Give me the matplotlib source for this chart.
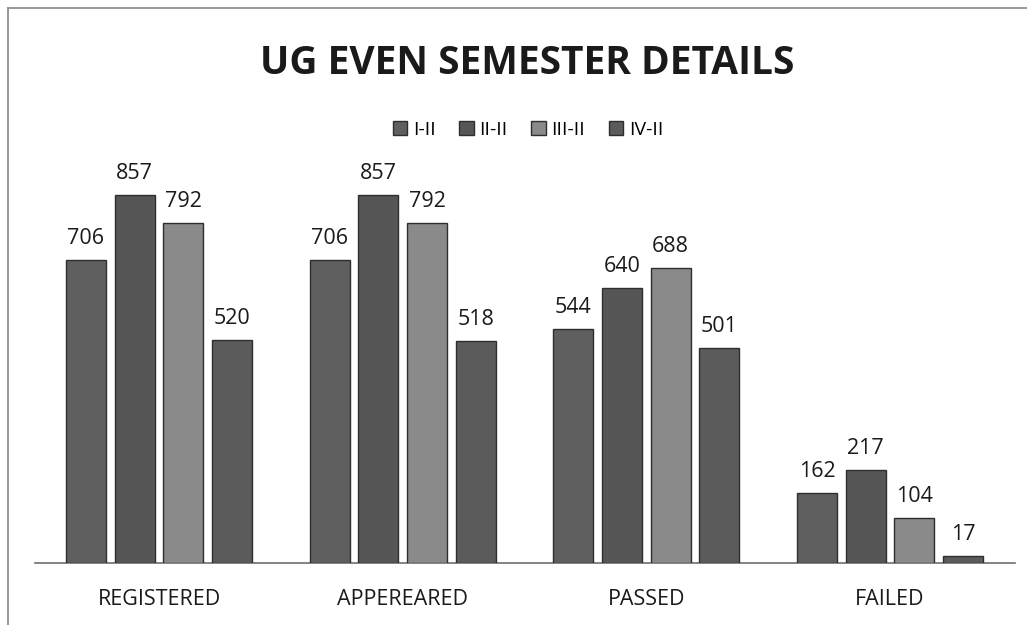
import matplotlib
matplotlib.use("Agg")
import matplotlib.pyplot as plt
from matplotlib.lines import Line2D
from matplotlib.patches import Patch
import numpy as np

categories = ["REGISTERED", "APPEREARED", "PASSED", "FAILED"]
series_names = ["I-II", "II-II", "III-II", "IV-II"]
s_I = [706, 706, 544, 162]
s_II = [857, 857, 640, 217]
s_III = [792, 792, 688, 104]
s_IV = [520, 518, 501, 17]
series = [s_I, s_II, s_III, s_IV]
colors = ["#5f5f5f", "#565656", "#8a8a8a", "#5b5b5b"]

plt.rcParams['font.family'] = ['Open Sans', 'DejaVu Sans']

W, H = 1027, 625
fig = plt.figure(figsize=(W / 100, H / 100), dpi=100)
ax = fig.add_axes([35 / W, 1 - 563 / H, (1015 - 35) / W, (563 - 150) / H])

x = np.arange(len(categories))
step = 0.2
width = 0.164
for i, (vals, c) in enumerate(zip(series, colors)):
    xs = x + (i - 1.5) * step
    ax.bar(xs, vals, width, color=c, edgecolor="#2e2e2e", linewidth=1.0,
           label=series_names[i], zorder=3)
    for xi, v in zip(xs, vals):
        ax.annotate(str(v), (xi, v), xytext=(0, 8), textcoords="offset points",
                    ha="center", va="bottom", fontsize=15.5, color="#1a1a1a")

ax.set_xlim(-0.509, 3.513)
ax.set_ylim(0, 962)
ax.set_xticks(x)
ax.set_xticklabels(categories, fontsize=15.5, color="#1a1a1a")
ax.tick_params(axis="x", length=0, pad=19)
ax.set_yticks([])
for s in ["top", "right", "left"]:
    ax.spines[s].set_visible(False)
ax.spines["bottom"].set_color("#707070")
ax.spines["bottom"].set_linewidth(1.2)

fig.text(527 / W, 1 - 63 / H, "UG EVEN SEMESTER DETAILS", ha="center", va="center",
         fontsize=28, fontweight="bold", color="#1a1a1a")

handles = [Patch(facecolor=c, edgecolor="#2e2e2e") for c in colors]
fig.legend(handles, series_names, loc="center", bbox_to_anchor=(528 / W, 1 - 130 / H),
           ncol=4, frameon=False, fontsize=14, handlelength=0.75, handleheight=0.75,
           handletextpad=0.3, columnspacing=1.2)

fig.add_artist(Line2D([8 / W, 8 / W], [0, 1 - 8 / H], color="#888888", lw=1.2))
fig.add_artist(Line2D([8 / W, 1], [1 - 8 / H, 1 - 8 / H], color="#888888", lw=1.2))

fig.savefig("out.png", dpi=100)
